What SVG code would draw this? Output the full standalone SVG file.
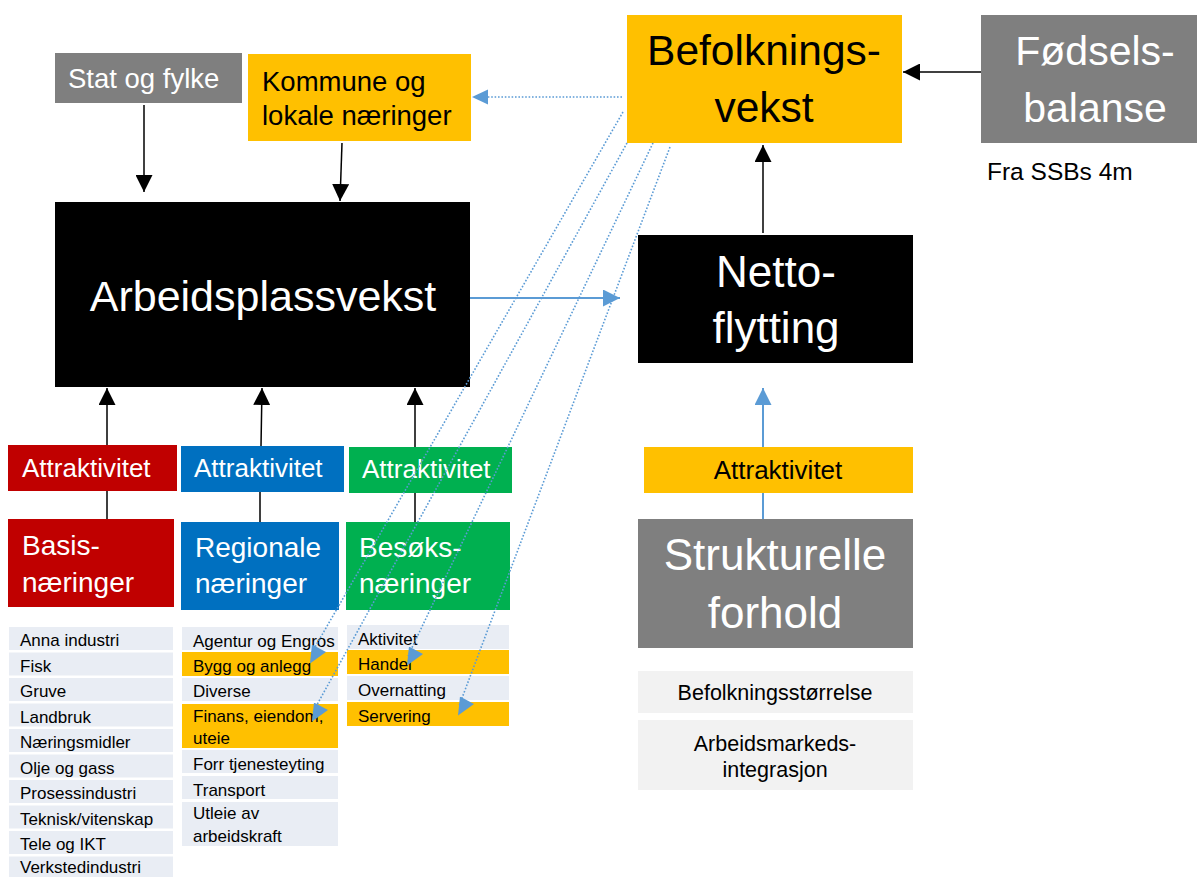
<svg xmlns="http://www.w3.org/2000/svg" width="1197" height="877" viewBox="0 0 1197 877">
<style>
text{font-family:"Liberation Sans",Arial,sans-serif}
.w{fill:#ffffff}.k{fill:#000000}
.mid{font-size:27.5px}
.att{font-size:26px}
.lst{font-size:17px}
.str{font-size:21.5px}
.c{text-anchor:middle}
.yel{fill:#ffc000}.gry{fill:#7f7f7f}.red{fill:#c00000}.blu{fill:#0070c0}.grn{fill:#00b050}.blk{fill:#000000}
.row{fill:#e9edf4}.lg{fill:#f2f2f2}
.ka{stroke:#000;stroke-width:1.5;fill:none;marker-end:url(#ah)}
.ba{stroke:#5b9bd5;stroke-width:2;fill:none;marker-end:url(#bh)}
.dl{stroke:#5b9bd5;stroke-width:1.6;fill:none;stroke-dasharray:1.6 1.8}
</style>
<defs>
<marker id="ah" markerUnits="userSpaceOnUse" viewBox="0 0 17 17" refX="17" refY="8.5" markerWidth="17" markerHeight="17" orient="auto"><path d="M0 0 L17 8.5 L0 17 Z" fill="#000"/></marker>
<marker id="bh" markerUnits="userSpaceOnUse" viewBox="0 0 17 17" refX="17" refY="8.5" markerWidth="17" markerHeight="17" orient="auto"><path d="M0 0 L17 8.5 L0 17 Z" fill="#5b9bd5"/></marker>
<marker id="rh" markerUnits="userSpaceOnUse" viewBox="0 0 17 19" refX="1" refY="9.5" markerWidth="17" markerHeight="19" orient="0"><path d="M2 0 L16 7.5 L0 19 Z" fill="#5b9bd5"/></marker>
</defs>

<g id="stat-og-fylke">
<rect class="gry" x="55" y="53" width="187" height="50"/>
<text class="w mid" x="68" y="88">Stat og fylke</text>
</g>
<g id="kommune">
<rect class="yel" x="248" y="54" width="223" height="87"/>
<text class="k mid" x="262" y="91">Kommune og</text>
<text class="k mid" x="262" y="125">lokale næringer</text>
</g>
<g id="arbeidsplassvekst">
<rect class="blk" x="55" y="202" width="415" height="185"/>
<text class="w c" x="263" y="311" font-size="43">Arbeidsplassvekst</text>
</g>
<g id="befolkningsvekst">
<rect class="yel" x="627" y="15" width="275" height="128"/>
<text class="k c" x="764" y="65" font-size="42.5">Befolknings-</text>
<text class="k c" x="764" y="122" font-size="42.5">vekst</text>
</g>
<g id="fodselsbalanse">
<rect class="gry" x="981" y="15" width="216" height="128"/>
<text class="w c" x="1095" y="65" font-size="41">Fødsels-</text>
<text class="w c" x="1095" y="122" font-size="41">balanse</text>
</g>
<g id="fra-ssb">
<text class="k" x="987" y="180" font-size="24.5">Fra SSBs 4m</text>
</g>
<g id="nettoflytting">
<rect class="blk" x="638" y="235" width="275" height="128"/>
<text class="w c" x="776" y="287" font-size="44">Netto-</text>
<text class="w c" x="776" y="343" font-size="44">flytting</text>
</g>
<g id="attraktivitet-struktur">
<rect class="yel" x="644" y="447" width="269" height="46"/>
<text class="k c att" x="778" y="479">Attraktivitet</text>
</g>
<g id="strukturelle-forhold">
<rect class="gry" x="638" y="519" width="275" height="129"/>
<text class="w c" x="775" y="570" font-size="44">Strukturelle</text>
<text class="w c" x="775" y="628" font-size="44">forhold</text>
</g>
<g id="befolkningsstorrelse">
<rect class="lg" x="638" y="671" width="275" height="42"/>
<text class="k c str" x="775" y="700">Befolkningsstørrelse</text>
</g>
<g id="arbeidsmarkedsintegrasjon">
<rect class="lg" x="638" y="720" width="275" height="70"/>
<text class="k c str" x="775" y="751">Arbeidsmarkeds-</text>
<text class="k c str" x="775" y="777">integrasjon</text>
</g>

<g id="attraktivitet-basis">
<rect class="red" x="8" y="445" width="169" height="46"/>
<text class="w att" x="22" y="477">Attraktivitet</text>
</g>
<g id="attraktivitet-regional">
<rect class="blu" x="181" y="446" width="163" height="46"/>
<text class="w att" x="194" y="477">Attraktivitet</text>
</g>
<g id="attraktivitet-besok">
<rect class="grn" x="349" y="447" width="163" height="46"/>
<text class="w att" x="362" y="478">Attraktivitet</text>
</g>
<g id="basisnaeringer">
<rect class="red" x="8" y="519" width="166" height="88"/>
<text class="w" x="22" y="555" font-size="28">Basis-</text>
<text class="w" x="22" y="592" font-size="28">næringer</text>
</g>
<g id="regionale-naeringer">
<rect class="blu" x="181" y="522" width="158" height="88"/>
<text class="w" x="195" y="557" font-size="28">Regionale</text>
<text class="w" x="195" y="593" font-size="28">næringer</text>
</g>
<g id="besoksnaeringer">
<rect class="grn" x="346" y="522" width="164" height="88"/>
<text class="w" x="359" y="557" font-size="28">Besøks-</text>
<text class="w" x="359" y="593" font-size="28">næringer</text>
</g>

<g id="liste-basis">
<rect class="row" x="9" y="627" width="164" height="23"/><text class="k lst" x="20" y="646">Anna industri</text>
<rect class="row" x="9" y="652.5" width="164" height="23"/><text class="k lst" x="20" y="671.5">Fisk</text>
<rect class="row" x="9" y="678" width="164" height="23"/><text class="k lst" x="20" y="697">Gruve</text>
<rect class="row" x="9" y="703.5" width="164" height="23"/><text class="k lst" x="20" y="722.5">Landbruk</text>
<rect class="row" x="9" y="729" width="164" height="23"/><text class="k lst" x="20" y="748">Næringsmidler</text>
<rect class="row" x="9" y="754.5" width="164" height="23"/><text class="k lst" x="20" y="773.5">Olje og gass</text>
<rect class="row" x="9" y="780" width="164" height="23"/><text class="k lst" x="20" y="799">Prosessindustri</text>
<rect class="row" x="9" y="805.5" width="164" height="23"/><text class="k lst" x="20" y="824.5">Teknisk/vitenskap</text>
<rect class="row" x="9" y="831" width="164" height="23"/><text class="k lst" x="20" y="850">Tele og IKT</text>
<rect class="row" x="9" y="856.5" width="164" height="23"/><text class="k lst" x="20" y="873">Verkstedindustri</text>
</g>
<g id="liste-regional">
<rect class="row" x="182" y="627" width="156" height="23"/><text class="k lst" x="193" y="647">Agentur og Engros</text>
<rect class="yel" x="182" y="652" width="156" height="24"/><text class="k lst" x="193" y="672">Bygg og anlegg</text>
<rect class="row" x="182" y="678" width="156" height="23"/><text class="k lst" x="193" y="697">Diverse</text>
<rect class="yel" x="182" y="704" width="156" height="44"/><text class="k lst" x="193" y="722">Finans, eiendom,</text><text class="k lst" x="193" y="744">uteie</text>
<rect class="row" x="182" y="750" width="156" height="23"/><text class="k lst" x="193" y="770">Forr tjenesteyting</text>
<rect class="row" x="182" y="776" width="156" height="23"/><text class="k lst" x="193" y="796">Transport</text>
<rect class="row" x="182" y="802" width="156" height="44"/><text class="k lst" x="193" y="819">Utleie av</text><text class="k lst" x="193" y="842">arbeidskraft</text>
</g>
<g id="liste-besok">
<rect class="row" x="347" y="625" width="162" height="24"/><text class="k lst" x="358" y="645">Aktivitet</text>
<rect class="yel" x="347" y="650" width="162" height="24"/><text class="k lst" x="358" y="670">Handel</text>
<rect class="row" x="347" y="676" width="162" height="24"/><text class="k lst" x="358" y="696">Overnatting</text>
<rect class="yel" x="347" y="702" width="162" height="24"/><text class="k lst" x="358" y="722">Servering</text>
</g>

<g id="connectors">
<path class="ka" d="M144 105 L144 192"/>
<path class="ka" d="M342 143 L340 201"/>
<path class="ka" d="M107 519 L107 491 M107 445 L107 388"/>
<path class="ka" d="M260 522 L260 492 M261 446 L262 388"/>
<path class="ka" d="M415 522 L415 493 M415 447 L415 388"/>
<path class="ka" d="M763 233 L763 145"/>
<path class="ka" d="M981 72 L903 72"/>
<path class="ba" d="M470 298 L620 298"/>
<path class="ba" d="M763 519 L763 493 M763 447 L763 388"/>
<path class="dl" d="M622 97 L488 97"/>
<path d="M488 89.5 L472 97 L488 104.5 Z" fill="#5b9bd5"/>
<path class="dl" d="M623 112 L311 654" marker-end="url(#rh)"/>
<path class="dl" d="M627 143 L313 712" marker-end="url(#rh)"/>
<path class="dl" d="M653 143 L408 656" marker-end="url(#rh)"/>
<path class="dl" d="M670 147 L459 706" marker-end="url(#rh)"/>
</g>
</svg>
